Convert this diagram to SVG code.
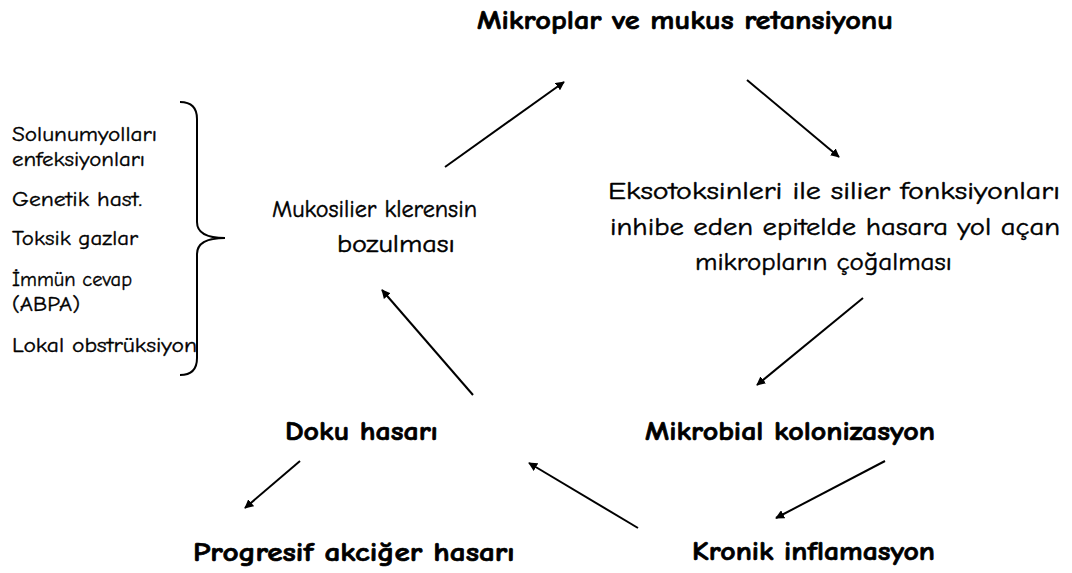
<svg xmlns="http://www.w3.org/2000/svg" width="1072" height="573" viewBox="0 0 1072 573">
<defs>
<style>
text{font-family:"Comic Neue","DejaVu Sans","Liberation Sans",sans-serif;fill:#000}
.b{font-weight:bold;font-size:27px;stroke:#000;stroke-width:0.7}
.r{font-size:24px;stroke:#000;stroke-width:0.45}
.s{font-size:20px;stroke:#000;stroke-width:0.35}
.c{stroke:#000;stroke-width:2;fill:none}
</style>
<marker id="ah" viewBox="0 0 10 10" refX="9" refY="5" markerWidth="9" markerHeight="9" markerUnits="userSpaceOnUse" orient="auto">
<path d="M0,0 L10,5 L0,10 z" fill="#000"/>
</marker>
</defs>
<rect width="1072" height="573" fill="#fff"/>
<g id="connectors">
<line class="c" x1="445" y1="167" x2="564" y2="82" marker-end="url(#ah)"/>
<line class="c" x1="747" y1="80" x2="839" y2="157" marker-end="url(#ah)"/>
<line class="c" x1="863" y1="298" x2="757" y2="385" marker-end="url(#ah)"/>
<line class="c" x1="885" y1="461" x2="776" y2="518" marker-end="url(#ah)"/>
<line class="c" x1="638" y1="528" x2="529" y2="463" marker-end="url(#ah)"/>
<line class="c" x1="473" y1="395" x2="382" y2="290" marker-end="url(#ah)"/>
<line class="c" x1="300" y1="461" x2="245" y2="508" marker-end="url(#ah)"/>
</g>
<g id="n-mikroplar">
<text class="b" x="477" y="29" textLength="416" lengthAdjust="spacingAndGlyphs">Mikroplar ve mukus retansiyonu</text>
</g>
<g id="n-eksotoksin">
<text class="r" x="608" y="199" textLength="452" lengthAdjust="spacingAndGlyphs">Eksotoksinleri ile silier fonksiyonları</text>
<text class="r" x="610" y="235" textLength="450" lengthAdjust="spacingAndGlyphs">inhibe eden epitelde hasara yol açan</text>
<text class="r" x="695" y="270" textLength="257" lengthAdjust="spacingAndGlyphs">mikropların çoğalması</text>
</g>
<g id="n-mukosilier">
<text class="r" x="272" y="217" textLength="205" lengthAdjust="spacingAndGlyphs">Mukosilier klerensin</text>
<text class="r" x="337" y="252" textLength="118" lengthAdjust="spacingAndGlyphs">bozulması</text>
</g>
<g id="n-mikrobial">
<text class="b" x="645" y="440" textLength="290" lengthAdjust="spacingAndGlyphs">Mikrobial kolonizasyon</text>
</g>
<g id="n-kronik">
<text class="b" x="692" y="560" textLength="243" lengthAdjust="spacingAndGlyphs">Kronik inflamasyon</text>
</g>
<g id="n-doku">
<text class="b" x="285" y="440" textLength="153" lengthAdjust="spacingAndGlyphs">Doku hasarı</text>
</g>
<g id="n-progresif">
<text class="b" x="193" y="561" textLength="322" lengthAdjust="spacingAndGlyphs">Progresif akciğer hasarı</text>
</g>
<g id="n-nedenler">
<text class="s" x="12" y="141" textLength="145" lengthAdjust="spacingAndGlyphs">Solunumyolları</text>
<text class="s" x="12" y="166" textLength="133" lengthAdjust="spacingAndGlyphs">enfeksiyonları</text>
<text class="s" x="12" y="206" textLength="130" lengthAdjust="spacingAndGlyphs">Genetik hast.</text>
<text class="s" x="12" y="245" textLength="126" lengthAdjust="spacingAndGlyphs">Toksik gazlar</text>
<text class="s" x="12" y="286" textLength="120" lengthAdjust="spacingAndGlyphs">İmmün cevap</text>
<text class="s" x="12" y="311" textLength="68" lengthAdjust="spacingAndGlyphs">(ABPA)</text>
<text class="s" x="12" y="352" textLength="185" lengthAdjust="spacingAndGlyphs">Lokal obstrüksiyon</text>
<path class="c" d="M180,102 Q197,102 197,119 L197,222 Q197,238 225,238 Q197,238 197,254 L197,358 Q197,375 180,375"/>
</g>
</svg>
